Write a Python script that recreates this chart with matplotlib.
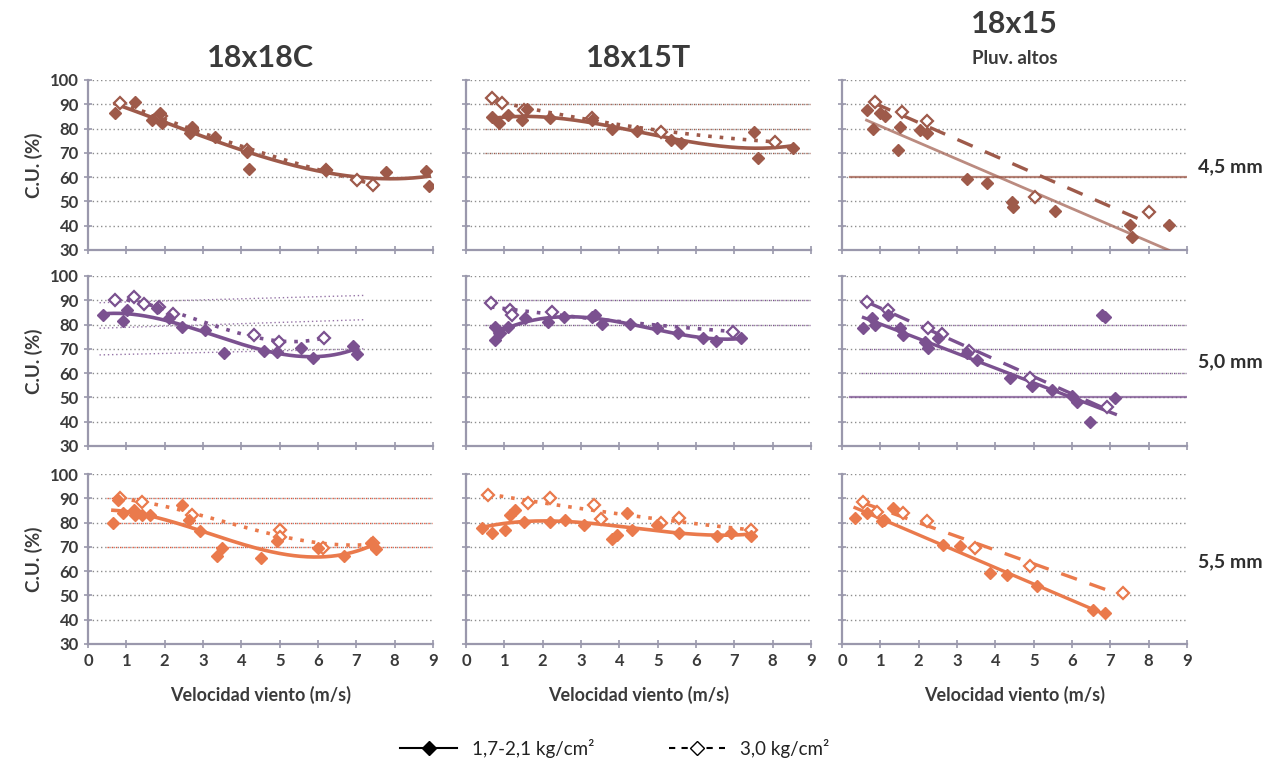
import numpy as np
import matplotlib.pyplot as plt
from matplotlib.lines import Line2D

plt.rcParams['font.family'] = ['Lato', 'DejaVu Sans']

# Nombres de columnas y filas
columnas = ['18x18C', '18x15T', '18x15']
filas = ['4,5 mm', '5,0 mm', '5,5 mm']
series = ['1,7-2,1 kg/cm²', '3,0 kg/cm²']
ticks_x = [0, 1, 2, 3, 4, 5, 6, 7, 8, 9]
ticks_y = [30, 40, 50, 60, 70, 80, 90, 100]

# ---- 4,5 mm ----
x_45_C_baja = [0.71, 1.23, 1.67, 1.88, 1.93, 2.67, 2.71, 3.32, 4.15, 4.2, 6.2, 7.77, 8.82, 8.9]
y_45_C_baja = [86.3, 91.1, 83.5, 86.3, 82.2, 78.0, 80.8, 76.7, 70.5, 63.2, 63.0, 62.3, 62.5, 56.4]
x_45_C_alta = [0.84, 1.9, 2.7, 4.15, 6.2, 7.03, 7.43]
y_45_C_alta = [90.4, 85.0, 80.0, 71.0, 63.0, 58.8, 56.8]

x_45_T_baja = [0.67, 0.85, 1.1, 1.46, 1.6, 2.2, 3.29, 3.81, 4.47, 5.34, 5.6, 7.52, 7.61, 8.53]
y_45_T_baja = [84.9, 82.2, 85.5, 83.5, 88.0, 84.2, 83.5, 79.7, 79.1, 75.3, 73.9, 78.5, 67.8, 71.9]
x_45_T_alta = [0.67, 0.93, 1.5, 3.29, 5.08, 8.05]
y_45_T_alta = [92.5, 90.4, 87.6, 84.5, 78.7, 74.6]

x_45_P_baja = [0.64, 0.82, 0.99, 1.12, 1.47, 1.51, 2.04, 2.21, 3.26, 3.78, 4.43, 4.47, 5.56, 7.52, 7.56, 8.52]
y_45_P_baja = [87.7, 79.7, 86.3, 85.2, 71.2, 80.8, 79.4, 78.0, 59.3, 57.5, 49.9, 47.9, 46.2, 40.3, 35.5, 40.3]
x_45_P_alta = [0.86, 1.56, 2.21, 5.04, 8.02]
y_45_P_alta = [91.1, 87.0, 83.3, 52.0, 45.8]

# ---- 5,0 mm ----
x_50_C_baja = [0.4, 0.92, 1.01, 1.8, 2.1, 2.45, 3.06, 3.54, 4.59, 4.94, 5.55, 5.86, 6.9, 7.03]
y_50_C_baja = [84.0, 81.5, 86.0, 86.7, 82.6, 79.1, 77.8, 68.2, 69.1, 68.7, 70.2, 66.4, 71.2, 67.8]
x_50_C_alta = [0.71, 1.19, 1.45, 1.84, 2.23, 4.33, 4.99, 6.16]
y_50_C_alta = [90.1, 91.2, 88.4, 87.4, 84.2, 75.7, 72.7, 74.6]

x_50_T_baja = [0.76, 0.76, 0.89, 1.1, 1.54, 2.15, 2.55, 3.29, 3.37, 3.55, 4.29, 4.99, 5.52, 6.17, 6.52, 7.17]
y_50_T_baja = [79.1, 73.7, 76.4, 79.1, 82.6, 81.2, 83.3, 83.3, 84.0, 80.1, 80.1, 78.5, 76.4, 74.6, 73.3, 74.6]
x_50_T_alta = [0.65, 1.15, 1.2, 2.24, 6.96]
y_50_T_alta = [88.8, 86.0, 84.0, 85.3, 77.1]

x_50_P_baja = [0.56, 0.77, 0.86, 1.21, 1.51, 1.6, 2.17, 2.25, 2.51, 3.26, 3.52, 4.39, 4.95, 5.48, 6.0, 6.13, 6.48, 7.13]
y_50_P_baja = [78.5, 82.6, 79.8, 84.0, 78.5, 75.7, 73.0, 70.2, 74.4, 68.2, 65.4, 58.2, 54.9, 53.1, 50.7, 48.3, 40.0, 49.7]
x_50_P_alta = [0.64, 1.2, 2.25, 2.6, 3.3, 4.9, 6.91]
y_50_P_alta = [89.4, 86.0, 78.5, 76.0, 69.0, 58.0, 46.2]
# puntos aislados fuera de la tendencia (5,0 mm, Pluv. altos)
x_50_P_aislados = [6.78, 6.87]
y_50_P_aislados = [84.0, 83.3]

# ---- 5,5 mm ----
x_55_C_baja = [0.65, 0.79, 0.92, 1.19, 1.23, 1.4, 1.62, 2.45, 2.63, 2.93, 3.37, 3.5, 4.5, 4.94, 5.99, 6.68, 7.38, 7.51]
y_55_C_baja = [79.8, 89.3, 83.9, 85.3, 83.0, 83.2, 83.2, 87.3, 81.1, 76.4, 66.1, 69.5, 65.4, 72.3, 69.5, 66.1, 71.6, 69.1]
x_55_C_alta = [0.84, 1.4, 2.71, 5.0, 5.0, 6.12, 7.43]
y_55_C_alta = [90.0, 88.6, 83.2, 77.0, 74.0, 69.5, 71.6]

x_55_T_baja = [0.41, 0.67, 1.02, 1.15, 1.28, 1.5, 2.2, 2.59, 3.07, 3.81, 3.95, 4.2, 4.34, 4.99, 5.56, 6.56, 6.91, 7.43]
y_55_T_baja = [77.7, 75.9, 77.0, 83.2, 85.2, 80.4, 80.4, 81.1, 79.0, 73.2, 75.0, 84.0, 77.0, 79.0, 75.9, 74.6, 75.7, 74.3]
x_55_T_alta = [0.58, 1.63, 2.2, 3.33, 3.51, 5.08, 5.56, 7.43]
y_55_T_alta = [91.4, 88.0, 90.0, 87.3, 81.4, 79.8, 81.8, 77.0]

x_55_P_baja = [0.34, 0.64, 1.04, 1.1, 1.34, 2.64, 3.08, 3.86, 4.3, 5.08, 6.56, 6.87]
y_55_P_baja = [81.8, 83.9, 80.5, 81.0, 85.9, 70.9, 70.2, 59.3, 58.6, 53.9, 44.0, 42.6]
x_55_P_alta = [0.56, 0.91, 1.6, 2.21, 3.48, 4.91, 7.34]
y_55_P_alta = [88.6, 84.5, 83.9, 80.5, 69.5, 62.0, 51.1]

# líneas de referencia (columna Pluv. altos) y lineas punteadas de color
referencia = {(0, 2): 60, (1, 2): 50}
rejilla_color = {(0, 1): [70, 80, 90], (1, 1): [80, 90], (1, 2): [60, 70, 80], (2, 0): [70, 80, 90]}
fantasma_x = [0.3, 7.2]
fantasma_y = [[67.5, 70], [78.5, 82], [89, 92]]

colores = ['#9e5a4a', '#7b5190', '#ea7a4c']
color_rejilla_roja = '#e2553a'

datos = {
    (0, 0): (x_45_C_baja, y_45_C_baja, x_45_C_alta, y_45_C_alta),
    (0, 1): (x_45_T_baja, y_45_T_baja, x_45_T_alta, y_45_T_alta),
    (0, 2): (x_45_P_baja, y_45_P_baja, x_45_P_alta, y_45_P_alta),
    (1, 0): (x_50_C_baja, y_50_C_baja, x_50_C_alta, y_50_C_alta),
    (1, 1): (x_50_T_baja, y_50_T_baja, x_50_T_alta, y_50_T_alta),
    (1, 2): (x_50_P_baja, y_50_P_baja, x_50_P_alta, y_50_P_alta),
    (2, 0): (x_55_C_baja, y_55_C_baja, x_55_C_alta, y_55_C_alta),
    (2, 1): (x_55_T_baja, y_55_T_baja, x_55_T_alta, y_55_T_alta),
    (2, 2): (x_55_P_baja, y_55_P_baja, x_55_P_alta, y_55_P_alta),
}
# grado del polinomio de tendencia (serie baja, serie alta) por columna
grados = {0: (3, 3), 1: (3, 2), 2: (1, 1)}

fig = plt.figure(figsize=(12.71, 7.63), dpi=100)

izq = [88, 466, 842]
arriba = [80, 276, 474]
ancho_px = 345
alto_px = 170
gris_eje = '#9a98ac'
texto = '#3a3a3a'


def tendencia(ax, x, y, grado, color, estilo, lw, alpha=1.0):
    x = np.array(x)
    y = np.array(y)
    coef = np.polyfit(x, y, grado)
    xs = np.linspace(x.min(), x.max(), 200)
    ax.plot(xs, np.polyval(coef, xs), color=color, ls=estilo, lw=lw, alpha=alpha, zorder=3)


for (f, c), (xb, yb, xa, ya) in datos.items():
    ax = fig.add_axes([izq[c] / 1271, 1 - (arriba[f] + alto_px) / 763, ancho_px / 1271, alto_px / 763])
    color = colores[f]

    ax.set_xlim(0, 9)
    ax.set_ylim(30, 100)
    ax.set_xticks(ticks_x)
    ax.set_yticks(ticks_y)

    # rejilla
    for v in ticks_y[1:]:
        ax.axhline(v, color='#8e8e8e', lw=1.0, ls=(0, (1, 2)), zorder=1)
    for v in rejilla_color.get((f, c), []):
        cr = color_rejilla_roja if f == 2 else color
        ax.plot([0.5, 9], [v, v], color=cr, lw=1.0, ls=(0, (1, 2)), zorder=1.5)
    if (f, c) == (1, 0):
        for yy in fantasma_y:
            ax.plot(fantasma_x, yy, color=color, lw=1.0, ls=(0, (1, 2)), alpha=0.8, zorder=1.5)
    if (f, c) in referencia:
        ax.plot([0.2, 9], [referencia[(f, c)]] * 2, color=color, lw=1.6, alpha=0.75, zorder=2)

    # tendencias
    gb, ga = grados[c]
    if (f, c) == (1, 1):
        gb = 4
    if c == 2:
        a_sol = 0.7 if f == 0 else 1.0
        tendencia(ax, xb, yb, gb, color, '-', 2.0 if f == 0 else 2.4, a_sol)
        tendencia(ax, xa, ya, ga, color, (0, (5, 4)), 2.4)
    else:
        tendencia(ax, xb, yb, gb, color, '-', 2.6)
        tendencia(ax, xa, ya, ga, color, (0, (1, 2.2)), 2.6)

    # puntos
    ax.plot(xa, ya, ls='none', marker='D', ms=6, mfc='white', mec=color, mew=1.6, zorder=4)
    ax.plot(xb, yb, ls='none', marker='D', ms=6.5, mfc=color, mec=color, zorder=5)
    if (f, c) == (1, 2):
        ax.plot(x_50_P_aislados, y_50_P_aislados, ls='none', marker='D', ms=6.5, mfc=color, mec=color, zorder=5)

    for s in ['top', 'right']:
        ax.spines[s].set_visible(False)
    for s in ['left', 'bottom']:
        ax.spines[s].set_color(gris_eje)
        ax.spines[s].set_linewidth(1.6)
    ax.tick_params(direction='inout', length=6, width=1.2, color=gris_eje,
                   labelcolor=texto, labelsize=12)
    for lab in ax.get_xticklabels() + ax.get_yticklabels():
        lab.set_fontweight('bold')
    if c > 0:
        ax.set_yticklabels([])
    else:
        ax.set_ylabel('C.U. (%)', fontsize=13.5, fontweight='bold', color=texto, labelpad=5)
    if f < 2:
        ax.set_xticklabels([])
    else:
        ax.set_xlabel('Velocidad viento (m/s)', fontsize=13, fontweight='bold', color=texto, labelpad=12)
    ax.set_facecolor('none')

# títulos
centros = [(izq[c] + ancho_px / 2) / 1271 for c in range(3)]
fig.text(centros[0], 1 - 58 / 763, columnas[0], ha='center', va='center', fontsize=22, fontweight='bold', color=texto)
fig.text(centros[1], 1 - 58 / 763, columnas[1], ha='center', va='center', fontsize=22, fontweight='bold', color=texto)
fig.text(centros[2], 1 - 24 / 763, columnas[2], ha='center', va='center', fontsize=22, fontweight='bold', color=texto)
fig.text(centros[2], 1 - 58 / 763, 'Pluv. altos', ha='center', va='center', fontsize=13.5, fontweight='bold', color=texto)

for f, nombre in enumerate(filas):
    yy = [167, 362, 562][f]
    fig.text(1230 / 1271, 1 - yy / 763, nombre, ha='center', va='center', fontsize=14, fontweight='bold', color='#2e2e2e')

# leyenda
manejadores = [
    Line2D([], [], color='black', lw=1.5, marker='D', ms=7, mfc='black'),
    Line2D([], [], color='black', lw=1.5, ls=(0, (3, 3)), marker='D', ms=7, mfc='white', mec='black'),
]
fig.legend(manejadores, series, loc='center', bbox_to_anchor=(615 / 1271, 1 - 748 / 763), ncol=2,
           frameon=False, fontsize=13.5, handlelength=3, columnspacing=4, labelcolor='#222222')

fig.savefig('out.png', dpi=100)
